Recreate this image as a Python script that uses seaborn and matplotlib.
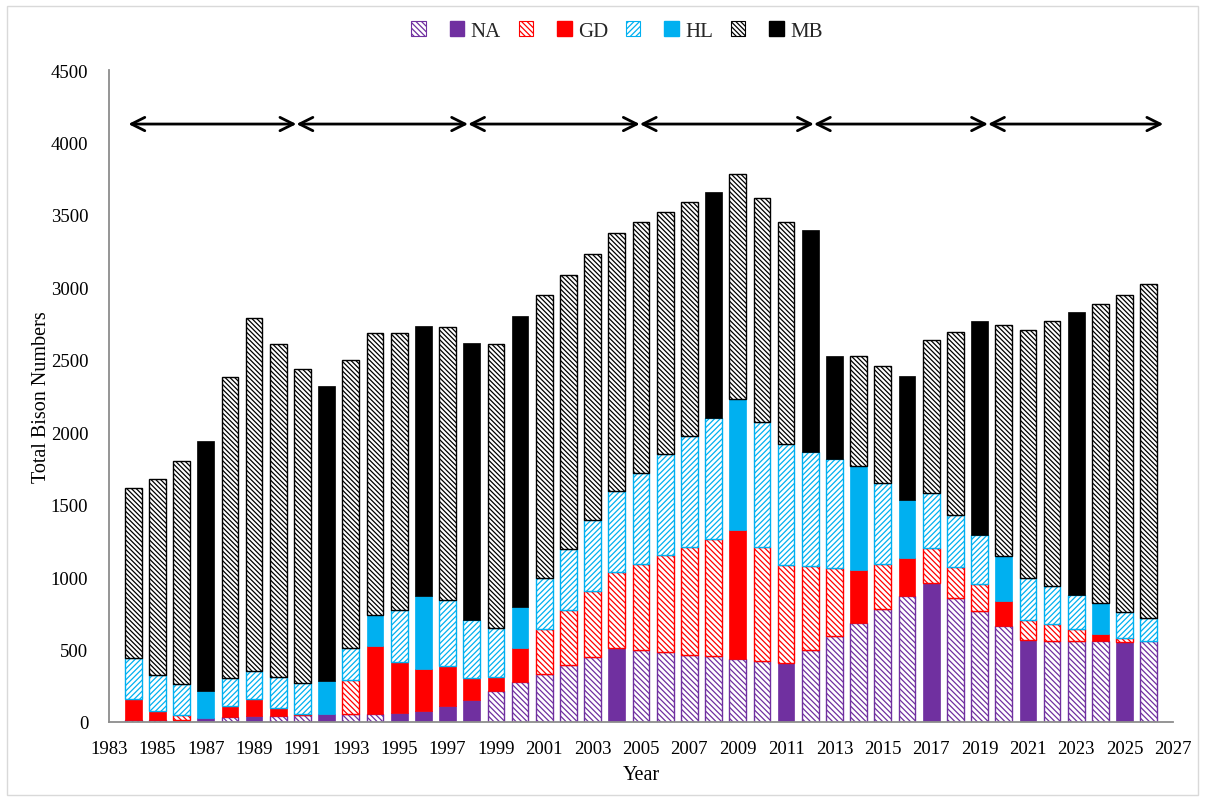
import numpy as np
import pandas as pd
import matplotlib
matplotlib.use("Agg")
import matplotlib.pyplot as plt
from matplotlib.patches import Patch, Rectangle
import seaborn as sns

# ---------------- data ----------------
years = list(range(1984, 2027))
na = [11, 11, 16, 27, 34, 39, 43, 48, 57, 57, 57, 60, 73, 108, 154, 216, 276, 333, 391, 451, 511,
      497, 480, 464, 453, 435, 418, 407, 499, 596, 683, 777, 867, 961, 853, 763, 662, 566, 561, 561,
      556, 552, 556]
gd = [150, 65, 34, 0, 76, 117, 56, 7, 0, 235, 465, 356, 290, 281, 152, 97, 235, 311, 379, 453, 524,
      593, 670, 741, 812, 887, 787, 679, 575, 467, 368, 313, 265, 240, 214, 192, 170, 138, 113, 83,
      51, 25, 0]
hl = [281, 248, 214, 184, 191, 198, 211, 214, 226, 219, 214, 359, 509, 450, 398, 338, 283, 350, 424,
      490, 561, 627, 697, 768, 833, 904, 866, 830, 788, 752, 716, 559, 397, 377, 359, 338, 316, 290,
      262, 232, 214, 184, 159]
mb = [1170, 1353, 1539, 1726, 2080, 2436, 2301, 2169, 2036, 1987, 1948, 1909, 1863, 1887, 1911, 1960,
      2005, 1950, 1891, 1836, 1776, 1731, 1673, 1616, 1560, 1553, 1543, 1535, 1533, 711, 759, 808, 856,
      1058, 1265, 1472, 1594, 1713, 1829, 1951, 2064, 2188, 2305]

# years in which each component is shown as a solid (observed) block
na_solid_years = [1986, 1987, 1989, 1992, 1995, 1996, 1997, 1998, 2004, 2011, 2017, 2021, 2025]
gd_solid_years = [1984, 1985, 1988, 1989, 1990, 1994, 1995, 1996, 1997, 1998, 1999, 2000, 2009,
                  2014, 2016, 2020, 2024]
hl_solid_years = [1987, 1992, 1994, 1996, 2000, 2009, 2014, 2016, 2020, 2024]
mb_solid_years = [1987, 1992, 1996, 1998, 2000, 2008, 2012, 2013, 2016, 2019, 2023]

components = ["NA", "GD", "HL", "MB"]
y_ticks = [0, 500, 1000, 1500, 2000, 2500, 3000, 3500, 4000, 4500]
x_tick_years = list(range(1983, 2028, 2))
arrow_bounds = [1983.8, 1990.75, 1997.85, 2004.95, 2012.15, 2019.35, 2026.6]
arrow_level = 4127
legend_labels = ["", "NA", "", "GD", "", "HL", "", "MB"]

# ---------------- style ----------------
sns.set_theme(style="white")
plt.rcParams["font.family"] = ["Liberation Serif", "DejaVu Serif"]
plt.rcParams["hatch.linewidth"] = 0.9

colors = {"NA": "#7030A0", "GD": "#FF0000", "HL": "#00B0F0", "MB": "#000000"}
hatches = {"NA": "\\\\\\\\\\\\", "GD": "\\\\\\\\\\\\", "HL": "//////", "MB": "\\\\\\\\\\\\\\"}
axis_grey = "#8c8c8c"

fig = plt.figure(figsize=(12.05, 8.03), dpi=100)
W, H = 1205, 803
ax = fig.add_axes([109 / W, (H - 723) / H, (1173 - 109) / W, (723 - 71) / H])

df = pd.DataFrame({"year": years, "NA": na, "GD": gd, "HL": hl, "MB": mb})
solid_map = {"NA": na_solid_years, "GD": gd_solid_years, "HL": hl_solid_years, "MB": mb_solid_years}

bottom = np.zeros(len(df))
for comp in components:
    df["bottom"] = bottom.copy()
    is_solid = df["year"].isin(solid_map[comp]).to_numpy()
    for solid in (False, True):
        mask = (is_solid == solid) & (df[comp].to_numpy() > 0)
        sub = df[mask].sort_values("year")
        if sub.empty:
            continue
        col = colors[comp]
        if solid:
            kw = dict(facecolor=col, edgecolor=col, linewidth=0.5)
        else:
            kw = dict(facecolor="white", edgecolor=col, hatch=hatches[comp], linewidth=1.0)
        sns.barplot(data=sub, x="year", y=comp, order=years, bottom=sub["bottom"].to_numpy(),
                    width=0.69, errorbar=None, saturation=1, color=col, ax=ax, **kw)
    bottom = bottom + df[comp].to_numpy()

# ---------------- axes ----------------
ax.set_xlim(-1, len(years))
ax.set_ylim(0, 4500)
ax.set_xticks([y - years[0] for y in x_tick_years])
ax.set_xticklabels([str(y) for y in x_tick_years])
ax.set_yticks(y_ticks)
ax.set_yticklabels([str(v) for v in y_ticks])
ax.tick_params(axis="both", direction="out", length=5, width=1.2, color=axis_grey,
               labelsize=13.5, labelcolor="black", pad=8)
ax.tick_params(axis="y", pad=10)
for s in ["top", "right"]:
    ax.spines[s].set_visible(False)
for s in ["left", "bottom"]:
    ax.spines[s].set_color(axis_grey)
    ax.spines[s].set_linewidth(1.3)
ax.grid(False)
ax.set_xlabel("Year", fontsize=14.5, labelpad=6, color="black")
ax.set_ylabel("Total Bison Numbers", fontsize=14.5, labelpad=0, color="black")

# period arrows
for a, b in zip(arrow_bounds[:-1], arrow_bounds[1:]):
    ax.annotate("", xy=(b - years[0], arrow_level), xytext=(a - years[0], arrow_level),
                arrowprops=dict(arrowstyle="<->", lw=2.0, color="black", mutation_scale=24,
                                shrinkA=0, shrinkB=0))

# legend
handles = []
for comp in components:
    col = colors[comp]
    handles.append(Patch(facecolor="white", edgecolor=col, hatch=hatches[comp], linewidth=0.8))
    handles.append(Patch(facecolor=col, edgecolor=col))
fig.legend(handles, legend_labels, loc="center", bbox_to_anchor=(0.512, 0.96), ncol=8,
           frameon=False, fontsize=15, handlelength=0.7, handleheight=0.7,
           handletextpad=0.3, columnspacing=0.85)

# outer frame
fig.patches.append(Rectangle((7 / W, 7 / H), 1 - 14 / W, 1 - 14 / H, transform=fig.transFigure,
                             fill=False, edgecolor="#d9d9d9", linewidth=1.0))

fig.savefig("out.png", dpi=100)
